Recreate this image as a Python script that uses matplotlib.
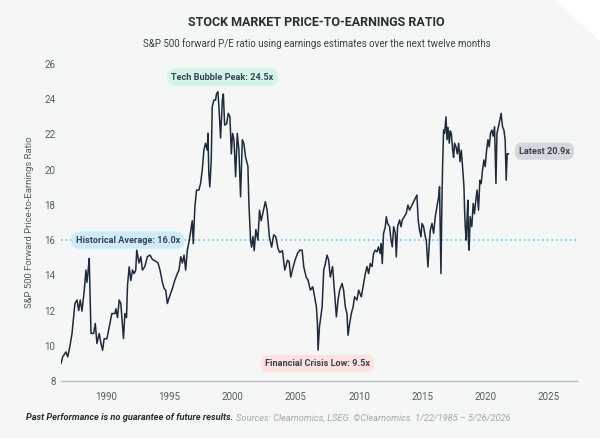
import numpy as np
import matplotlib.pyplot as plt
from matplotlib.patches import Polygon

plt.rcParams['font.family'] = ['Roboto', 'DejaVu Sans']

# forward P/E readings (decimal year, ratio) as placed on the chart's year axis
years = [1986.42, 1986.55, 1986.81, 1986.95, 1987.13, 1987.29, 1987.42, 1987.52, 1987.68, 1987.82,
         1987.94, 1988.08, 1988.26, 1988.39, 1988.47, 1988.57, 1988.65, 1988.79, 1989.0, 1989.13,
         1989.26, 1989.44, 1989.58, 1989.71, 1989.83, 1990.05, 1990.23, 1990.44, 1990.68, 1990.76,
         1990.89, 1991.02, 1991.15, 1991.29, 1991.36, 1991.47, 1991.6, 1991.68, 1991.81, 1991.94,
         1992.07, 1992.2, 1992.33, 1992.41, 1992.59, 1992.73, 1992.86, 1993.04, 1993.25, 1993.46,
         1993.65, 1993.91, 1994.09, 1994.25, 1994.44, 1994.57, 1994.7, 1994.83, 1994.96, 1995.23,
         1995.41, 1995.62, 1995.75, 1995.89, 1996.02, 1996.15, 1996.28, 1996.41, 1996.54, 1996.67,
         1996.8, 1996.88, 1997.01, 1997.14, 1997.32, 1997.46, 1997.59, 1997.72, 1997.85, 1997.99,
         1998.04, 1998.11, 1998.19, 1998.3, 1998.38, 1998.51, 1998.64, 1998.72, 1998.83, 1998.91,
         1999.04, 1999.18, 1999.26, 1999.36, 1999.52, 1999.65, 1999.78, 1999.89, 1999.99, 2000.1,
         2000.23, 2000.36, 2000.49, 2000.62, 2000.76, 2000.88, 2001.02, 2001.2, 2001.28, 2001.41,
         2001.49, 2001.6, 2001.7, 2001.83, 2001.99, 2002.12, 2002.25, 2002.37, 2002.58, 2002.72,
         2002.9, 2003.08, 2003.24, 2003.4, 2003.59, 2003.72, 2003.93, 2004.12, 2004.33, 2004.46,
         2004.59, 2004.72, 2004.93, 2005.12, 2005.3, 2005.49, 2005.62, 2005.81, 2005.96, 2006.14,
         2006.33, 2006.48, 2006.62, 2006.7, 2006.75, 2006.86, 2006.96, 2007.07, 2007.2, 2007.33,
         2007.46, 2007.59, 2007.72, 2007.9, 2007.98, 2008.12, 2008.2, 2008.33, 2008.46, 2008.65,
         2008.77, 2008.91, 2009.04, 2009.12, 2009.25, 2009.38, 2009.52, 2009.64, 2009.83, 2009.96,
         2010.17, 2010.35, 2010.49, 2010.62, 2010.75, 2010.88, 2011.02, 2011.14, 2011.27, 2011.41,
         2011.53, 2011.67, 2011.75, 2011.83, 2011.93, 2012.07, 2012.15, 2012.25, 2012.41, 2012.52,
         2012.62, 2012.73, 2012.86, 2012.94, 2013.04, 2013.2, 2013.31, 2013.41, 2013.57, 2013.73,
         2013.86, 2013.99, 2014.12, 2014.26, 2014.44, 2014.57, 2014.67, 2014.78, 2014.89, 2014.97,
         2015.1, 2015.23, 2015.31, 2015.44, 2015.55, 2015.63, 2015.76, 2015.89, 2016.02, 2016.16,
         2016.29, 2016.36, 2016.47, 2016.55, 2016.6, 2016.68, 2016.76, 2016.87, 2016.95, 2017.03,
         2017.13, 2017.21, 2017.29, 2017.4, 2017.47, 2017.55, 2017.66, 2017.76, 2017.87, 2017.98,
         2018.08, 2018.18, 2018.29, 2018.34, 2018.39, 2018.47, 2018.55, 2018.6, 2018.65, 2018.7,
         2018.78, 2018.91, 2019.02, 2019.12, 2019.23, 2019.33, 2019.44, 2019.55, 2019.65, 2019.76,
         2019.87, 2019.97, 2020.08, 2020.19, 2020.29, 2020.39, 2020.5, 2020.6, 2020.71, 2020.82,
         2020.9, 2021.02, 2021.13, 2021.23, 2021.34, 2021.45, 2021.55, 2021.63, 2021.71, 2021.81]
pe = [9.0, 9.37, 9.65, 9.37, 10.0, 10.7, 11.64, 12.4, 12.6, 12.0,
      12.6, 11.97, 13.16, 14.3, 13.6, 14.3, 14.96, 10.7, 10.7, 11.27,
      10.13, 10.7, 10.13, 9.75, 10.4, 10.4, 11.07, 11.83, 11.83, 12.1,
      11.6, 12.6, 12.4, 11.07, 10.41, 11.83, 11.6, 13.44, 14.48, 13.7,
      14.3, 14.1, 14.3, 15.43, 14.7, 15.06, 14.3, 14.48, 15.06, 15.15,
      14.9, 14.8, 14.7, 14.3, 13.6, 13.26, 13.16, 12.4, 12.7, 13.26,
      13.7, 14.1, 14.3, 15.06, 14.7, 15.15, 14.3, 15.43, 15.9, 16.47,
      17.1, 15.8, 17.9, 18.84, 18.84, 19.22, 19.98, 21.1, 21.5, 21.1,
      22.06, 19.8, 19.03, 20.5, 23.57, 23.95, 23.95, 24.3, 24.43, 23.57,
      21.8, 23.95, 24.3, 22.53, 22.6, 23.2, 23.0, 20.9, 22.06, 21.7,
      19.6, 22.06, 21.1, 18.46, 21.7, 21.5, 20.7, 20.2, 18.08, 16.0,
      15.6, 16.2, 15.4, 16.6, 16.0, 17.7, 17.1, 17.5, 18.18, 17.7,
      16.19, 15.6, 16.3, 16.2, 15.5, 15.3, 15.4, 14.3, 14.86, 14.78,
      13.9, 14.3, 14.86, 15.24, 15.43, 15.43, 14.48, 13.9, 13.73, 13.16,
      13.35, 12.78, 12.2, 11.27, 9.75, 11.07, 11.6, 12.2, 14.3, 14.67,
      15.15, 14.86, 13.9, 14.5, 13.73, 12.4, 11.64, 12.6, 13.16, 13.54,
      13.16, 12.2, 11.8, 10.6, 11.27, 11.83, 12.2, 12.78, 12.6, 13.16,
      12.78, 13.54, 14.1, 14.5, 14.1, 14.67, 14.5, 15.24, 15.43, 15.33,
      15.62, 15.24, 15.8, 14.67, 16.38, 16.76, 17.33, 16.95, 16.76, 16.0,
      15.62, 16.76, 16.38, 15.05, 16.76, 17.14, 16.76, 17.14, 17.33, 17.52,
      17.99, 17.7, 17.9, 18.1, 18.37, 18.56, 17.14, 16.57, 16.19, 16.95,
      16.76, 16.19, 16.0, 14.48, 15.8, 16.57, 16.95, 16.38, 17.33, 17.9,
      18.46, 19.03, 14.1, 18.27, 20.17, 22.25, 22.06, 23.0, 21.7, 22.4,
      21.5, 22.2, 22.06, 21.1, 20.7, 21.5, 21.3, 20.9, 21.5, 20.45,
      21.1, 20.17, 19.03, 17.7, 16.76, 16.0, 17.5, 18.27, 15.81, 15.43,
      17.33, 16.76, 18.08, 17.5, 18.27, 18.84, 17.7, 19.4, 19.2, 19.98,
      20.55, 20.17, 21.1, 21.7, 21.3, 22.06, 22.25, 21.9, 22.44, 19.22,
      22.06, 22.44, 22.82, 23.2, 22.44, 22.25, 21.7, 19.4, 20.9, 20.9]

hist_avg = 16.0
x_ticks = [1990, 1995, 2000, 2005, 2010, 2015, 2020, 2025]
y_ticks = [8, 10, 12, 14, 16, 18, 20, 22, 24, 26]

# (label, x, y, face colour)
callouts = [
    ('Tech Bubble Peak: 24.5x', 1999.2, 25.26, '#d3f5e9'),
    ('Historical Average: 16.0x', 1991.7, 16.0, '#cdebf8'),
    ('Financial Crisis Low: 9.5x', 2006.7, 9.0, '#fde2df'),
    ('Latest 20.9x', 2024.65, 21.05, '#d4d8dc'),
]

bg = '#f5f6f6'
fig = plt.figure(figsize=(6, 4.38), dpi=100, facecolor=bg)
# clipped top-right corner
fig.patches.append(Polygon([[0.926, 1.0], [1.0, 1.0], [1.0, 0.904]], closed=True,
                           transform=fig.transFigure, facecolor='white', edgecolor='none'))

ax = fig.add_axes([0.1017, 0.1301, 0.8593, 0.7238])
ax.set_facecolor(bg)

ax.axhline(hist_avg, color='#45c1ef', linestyle=(0, (1, 2)), linewidth=1.1, zorder=1)
ax.plot(years, pe, color='#1d2b3a', linewidth=1.1, zorder=2)

for label, x, y, fc in callouts:
    ax.text(x, y, label, ha='center', va='center', fontsize=6.6, fontweight='bold',
            color='#39434d', zorder=4,
            bbox=dict(boxstyle='round,pad=0.45,rounding_size=0.8', facecolor=fc, edgecolor='none'))

ax.set_xlim(1986.42, 2027.2)
ax.set_ylim(8, 26)
ax.set_xticks(x_ticks)
ax.set_yticks(y_ticks)
ax.tick_params(axis='both', length=0, labelsize=7, labelcolor='#555b61')
ax.tick_params(axis='x', pad=8)
ax.tick_params(axis='y', pad=4)
for side in ['top', 'right', 'left']:
    ax.spines[side].set_visible(False)
ax.spines['bottom'].set_color('#b9bdc1')
ax.spines['bottom'].set_linewidth(1.0)

ax.set_ylabel('S&P 500 Forward Price-to-Earnings Ratio', fontsize=6.8, color='#555b61')
ax.yaxis.set_label_coords(-0.052, 0.5)

fig.text(0.528, 0.948, 'STOCK MARKET PRICE-TO-EARNINGS RATIO', ha='center', va='center',
         fontsize=9, fontweight='bold', color='#2b2f33')
fig.text(0.528, 0.90, 'S&P 500 forward P/E ratio using earnings estimates over the next twelve months',
         ha='center', va='center', fontsize=7.0, color='#3a3f44')

t1 = fig.text(0.043, 0.046, 'Past Performance is no guarantee of future results.', ha='left', va='center',
              fontsize=6.7, fontweight='bold', style='italic', color='#2b2f33')
fig.canvas.draw()
bb = t1.get_window_extent(renderer=fig.canvas.get_renderer())
x2 = (bb.x1 + 3) / fig.bbox.width
fig.text(x2, 0.046, 'Sources: Clearnomics, LSEG. \u00a9Clearnomics. 1/22/1985 \u2013 5/26/2026',
         ha='left', va='center', fontsize=6.7, style='italic', color='#a3a8ad')

fig.savefig('out.png', dpi=100, facecolor=bg)
